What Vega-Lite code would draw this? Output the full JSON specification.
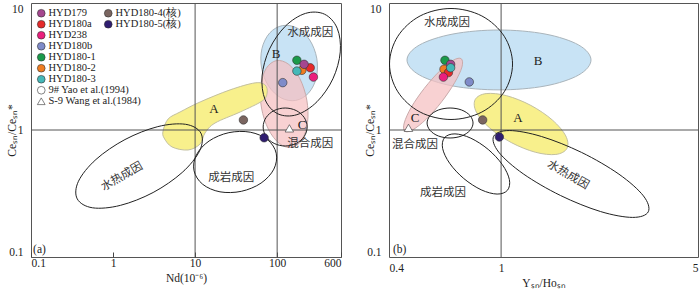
{
  "$schema": "https://vega.github.io/schema/vega-lite/v6.json",
  "padding": {"left": 5, "top": 2, "right": 0, "bottom": 0},
  "background": "white",
  "config": {
    "view": {"stroke": "#555", "strokeWidth": 1},
    "font": "Liberation Serif",
    "legend": {"labelFont": "Liberation Serif", "labelFontSize": 10.5, "labelColor": "#222"},
    "axis": {"grid": false, "domain": false, "ticks": false, "labelFont": "Liberation Serif", "labelFontSize": 11.5, "labelColor": "#222", "titleFont": "Liberation Serif", "titleFontSize": 11.5, "titleFontWeight": "normal", "titleColor": "#222", "labelFlush": true, "format": "~g"}
  },
  "datasets": {
    "lfill": [
      {"id":"B","i":0,"x":116.4,"y":6.64},{"id":"B","i":1,"x":81.0,"y":5.80},{"id":"B","i":2,"x":65.3,"y":4.38},{"id":"B","i":3,"x":64.6,"y":3.08},{"id":"B","i":4,"x":78.6,"y":2.22},{"id":"B","i":5,"x":111.7,"y":1.79},{"id":"B","i":6,"x":168.6,"y":1.71},{"id":"B","i":7,"x":242.2,"y":1.96},{"id":"B","i":8,"x":300.4,"y":2.59},{"id":"B","i":9,"x":303.7,"y":3.68},{"id":"B","i":10,"x":249.6,"y":5.11},{"id":"B","i":11,"x":175.7,"y":6.34},
      {"id":"C","i":0,"x":98.2,"y":3.52},{"id":"C","i":1,"x":73.5,"y":3.05},{"id":"C","i":2,"x":63.0,"y":2.23},{"id":"C","i":3,"x":64.5,"y":1.49},{"id":"C","i":4,"x":78.1,"y":1.016},{"id":"C","i":5,"x":106.6,"y":0.782},{"id":"C","i":6,"x":150.8,"y":0.730},{"id":"C","i":7,"x":201.5,"y":0.841},{"id":"C","i":8,"x":235.0,"y":1.152},{"id":"C","i":9,"x":229.9,"y":1.72},{"id":"C","i":10,"x":189.6,"y":2.53},{"id":"C","i":11,"x":138.9,"y":3.28},
      {"id":"A","i":0,"x":4.07,"y":0.982},{"id":"A","i":1,"x":4.69,"y":1.221},{"id":"A","i":2,"x":6.56,"y":1.386},{"id":"A","i":3,"x":11.51,"y":1.662},{"id":"A","i":4,"x":26.7,"y":2.07},{"id":"A","i":5,"x":53.9,"y":2.35},{"id":"A","i":6,"x":71.4,"y":2.26},{"id":"A","i":7,"x":75.5,"y":1.956},{"id":"A","i":8,"x":65.6,"y":1.692},{"id":"A","i":9,"x":35.4,"y":1.386},{"id":"A","i":10,"x":17.5,"y":1.135},{"id":"A","i":11,"x":13.2,"y":0.947},{"id":"A","i":12,"x":11.51,"y":0.776},{"id":"A","i":13,"x":8.21,"y":0.696},{"id":"A","i":14,"x":5.24,"y":0.735},{"id":"A","i":15,"x":4.19,"y":0.865}
    ],
    "lring": [
      {"id":"e1","i":0,"x":376.9,"y":8.17},{"id":"e1","i":1,"x":221.2,"y":8.28},{"id":"e1","i":2,"x":125.7,"y":6.56},{"id":"e1","i":3,"x":80.5,"y":4.33},{"id":"e1","i":4,"x":65.5,"y":2.66},{"id":"e1","i":5,"x":71.4,"y":1.73},{"id":"e1","i":6,"x":102.2,"y":1.34},{"id":"e1","i":7,"x":174.0,"y":1.32},{"id":"e1","i":8,"x":306.2,"y":1.67},{"id":"e1","i":9,"x":478,"y":2.53},{"id":"e1","i":10,"x":588,"y":4.12},{"id":"e1","i":11,"x":539,"y":6.33},
      {"id":"e2","i":0,"x":232.2,"y":1.056},{"id":"e2","i":1,"x":213.7,"y":1.254},{"id":"e2","i":2,"x":170.5,"y":1.423},{"id":"e2","i":3,"x":125.2,"y":1.490},{"id":"e2","i":4,"x":91.9,"y":1.423},{"id":"e2","i":5,"x":73.3,"y":1.254},{"id":"e2","i":6,"x":67.5,"y":1.056},{"id":"e2","i":7,"x":73.3,"y":0.889},{"id":"e2","i":8,"x":91.9,"y":0.784},{"id":"e2","i":9,"x":125.2,"y":0.748},{"id":"e2","i":10,"x":170.5,"y":0.784},{"id":"e2","i":11,"x":213.7,"y":0.889},
      {"id":"e3","i":0,"x":11.77,"y":0.945},{"id":"e3","i":1,"x":7.65,"y":1.109},{"id":"e3","i":2,"x":3.51,"y":1.063},{"id":"e3","i":3,"x":1.397,"y":0.841},{"id":"e3","i":4,"x":0.619,"y":0.586},{"id":"e3","i":5,"x":0.379,"y":0.395},{"id":"e3","i":6,"x":0.366,"y":0.287},{"id":"e3","i":7,"x":0.563,"y":0.244},{"id":"e3","i":8,"x":1.228,"y":0.255},{"id":"e3","i":9,"x":3.08,"y":0.322},{"id":"e3","i":10,"x":6.96,"y":0.463},{"id":"e3","i":11,"x":11.36,"y":0.686},
      {"id":"e4","i":0,"x":97.4,"y":0.656},{"id":"e4","i":1,"x":76.5,"y":0.838},{"id":"e4","i":2,"x":47.0,"y":0.961},{"id":"e4","i":3,"x":25.8,"y":0.953},{"id":"e4","i":4,"x":14.84,"y":0.820},{"id":"e4","i":5,"x":10.37,"y":0.637},{"id":"e4","i":6,"x":9.70,"y":0.478},{"id":"e4","i":7,"x":12.36,"y":0.374},{"id":"e4","i":8,"x":20.1,"y":0.326},{"id":"e4","i":9,"x":36.6,"y":0.329},{"id":"e4","i":10,"x":63.7,"y":0.382},{"id":"e4","i":11,"x":91.2,"y":0.492}
    ],
    "rfill": [
      {"id":"B","i":0,"x":2.085,"y":3.56},{"id":"B","i":1,"x":1.885,"y":4.67},{"id":"B","i":2,"x":1.432,"y":5.70},{"id":"B","i":3,"x":0.983,"y":6.13},{"id":"B","i":4,"x":0.675,"y":5.70},{"id":"B","i":5,"x":0.513,"y":4.67},{"id":"B","i":6,"x":0.4634,"y":3.56},{"id":"B","i":7,"x":0.513,"y":2.71},{"id":"B","i":8,"x":0.675,"y":2.22},{"id":"B","i":9,"x":0.983,"y":2.07},{"id":"B","i":10,"x":1.432,"y":2.22},{"id":"B","i":11,"x":1.885,"y":2.71},
      {"id":"C","i":0,"x":0.722,"y":3.64},{"id":"C","i":1,"x":0.676,"y":3.54},{"id":"C","i":2,"x":0.605,"y":2.91},{"id":"C","i":3,"x":0.534,"y":2.13},{"id":"C","i":4,"x":0.480,"y":1.510},{"id":"C","i":5,"x":0.453,"y":1.135},{"id":"C","i":6,"x":0.455,"y":0.978},{"id":"C","i":7,"x":0.486,"y":1.004},{"id":"C","i":8,"x":0.543,"y":1.221},{"id":"C","i":9,"x":0.615,"y":1.668},{"id":"C","i":10,"x":0.684,"y":2.36},{"id":"C","i":11,"x":0.726,"y":3.13},
      {"id":"A","i":0,"x":1.713,"y":0.716},{"id":"A","i":1,"x":1.696,"y":0.899},{"id":"A","i":2,"x":1.522,"y":1.196},{"id":"A","i":3,"x":1.276,"y":1.561},{"id":"A","i":4,"x":1.046,"y":1.862},{"id":"A","i":5,"x":0.885,"y":1.935},{"id":"A","i":6,"x":0.809,"y":1.735},{"id":"A","i":7,"x":0.817,"y":1.382},{"id":"A","i":8,"x":0.910,"y":1.040},{"id":"A","i":9,"x":1.086,"y":0.797},{"id":"A","i":10,"x":1.324,"y":0.668},{"id":"A","i":11,"x":1.564,"y":0.642}
    ],
    "rring": [
      {"id":"e1","i":0,"x":1.098,"y":3.31},{"id":"e1","i":1,"x":1.026,"y":5.47},{"id":"e1","i":2,"x":0.854,"y":7.91},{"id":"e1","i":3,"x":0.664,"y":9.05},{"id":"e1","i":4,"x":0.516,"y":7.91},{"id":"e1","i":5,"x":0.430,"y":5.47},{"id":"e1","i":6,"x":0.4017,"y":3.31},{"id":"e1","i":7,"x":0.430,"y":2.00},{"id":"e1","i":8,"x":0.516,"y":1.384},{"id":"e1","i":9,"x":0.664,"y":1.210},{"id":"e1","i":10,"x":0.854,"y":1.384},{"id":"e1","i":11,"x":1.026,"y":2.00},
      {"id":"e2","i":0,"x":0.795,"y":1.135},{"id":"e2","i":1,"x":0.775,"y":1.301},{"id":"e2","i":2,"x":0.724,"y":1.437},{"id":"e2","i":3,"x":0.659,"y":1.490},{"id":"e2","i":4,"x":0.599,"y":1.437},{"id":"e2","i":5,"x":0.560,"y":1.301},{"id":"e2","i":6,"x":0.546,"y":1.135},{"id":"e2","i":7,"x":0.560,"y":0.991},{"id":"e2","i":8,"x":0.599,"y":0.897},{"id":"e2","i":9,"x":0.659,"y":0.865},{"id":"e2","i":10,"x":0.724,"y":0.897},{"id":"e2","i":11,"x":0.775,"y":0.991},
      {"id":"e3","i":0,"x":3.33,"y":0.227},{"id":"e3","i":1,"x":3.20,"y":0.303},{"id":"e3","i":2,"x":2.62,"y":0.449},{"id":"e3","i":3,"x":1.930,"y":0.666},{"id":"e3","i":4,"x":1.391,"y":0.889},{"id":"e3","i":5,"x":1.070,"y":0.990},{"id":"e3","i":6,"x":0.941,"y":0.892},{"id":"e3","i":7,"x":0.981,"y":0.669},{"id":"e3","i":8,"x":1.198,"y":0.452},{"id":"e3","i":9,"x":1.625,"y":0.305},{"id":"e3","i":10,"x":2.254,"y":0.228},{"id":"e3","i":11,"x":2.93,"y":0.205},
      {"id":"e4","i":0,"x":1.053,"y":0.335},{"id":"e4","i":1,"x":1.070,"y":0.407},{"id":"e4","i":2,"x":1.010,"y":0.534},{"id":"e4","i":3,"x":0.900,"y":0.703},{"id":"e4","i":4,"x":0.781,"y":0.862},{"id":"e4","i":5,"x":0.686,"y":0.932},{"id":"e4","i":6,"x":0.630,"y":0.871},{"id":"e4","i":7,"x":0.620,"y":0.716},{"id":"e4","i":8,"x":0.657,"y":0.546},{"id":"e4","i":9,"x":0.737,"y":0.415},{"id":"e4","i":10,"x":0.850,"y":0.338},{"id":"e4","i":11,"x":0.968,"y":0.313}
    ],
    "lpts": [
      {"sample":"HYD180-2","x":200,"y":2.95},
      {"sample":"HYD180-3","x":174,"y":2.91},
      {"sample":"HYD180-1","x":174,"y":3.54},
      {"sample":"HYD180a","x":253,"y":3.09},
      {"sample":"HYD179","x":213,"y":3.29},
      {"sample":"HYD238","x":277,"y":2.61},
      {"sample":"HYD180b","x":117,"y":2.36},
      {"sample":"S-9 Wang et al.(1984)","x":141,"y":1.03}
    ],
    "lcore": [
      {"core":"HYD180-4(核)","x":38.8,"y":1.20},
      {"core":"HYD180-5(核)","x":69.4,"y":0.869}
    ],
    "rpts": [
      {"sample":"HYD180-2","x":0.627,"y":3.01},
      {"sample":"HYD180a","x":0.650,"y":2.83},
      {"sample":"HYD180-1","x":0.632,"y":3.54},
      {"sample":"HYD179","x":0.662,"y":3.29},
      {"sample":"HYD180-3","x":0.662,"y":3.09},
      {"sample":"HYD238","x":0.624,"y":2.61},
      {"sample":"HYD180b","x":0.771,"y":2.39},
      {"sample":"S-9 Wang et al.(1984)","x":0.469,"y":1.04}
    ],
    "rcore": [
      {"core":"HYD180-4(核)","x":0.860,"y":1.20},
      {"core":"HYD180-5(核)","x":0.986,"y":0.881}
    ],
    "lcn": [
      {"t":"水成成因","x":252.6,"y":5.80},
      {"t":"混合成因","x":252.6,"y":0.776},
      {"t":"成岩成因","x":27.5,"y":0.419}
    ],
    "lrot": [{"t":"水热成因","x":1.288,"y":0.427}],
    "llet": [
      {"t":"B","x":97.2,"y":3.97},
      {"t":"A","x":17.0,"y":1.464},
      {"t":"C","x":201.8,"y":1.095}
    ],
    "ltag": [{"t":"(a)","x":0.106,"y":0.1135}],
    "rcn": [
      {"t":"水成成因","x":0.643,"y":6.96},
      {"t":"混合成因","x":0.495,"y":0.762},
      {"t":"成岩成因","x":0.622,"y":0.319}
    ],
    "rrot": [{"t":"水热成因","x":1.728,"y":0.442}],
    "rlet": [
      {"t":"B","x":1.352,"y":3.49},
      {"t":"C","x":0.495,"y":1.243},
      {"t":"A","x":1.148,"y":1.243}
    ],
    "rtag": [{"t":"(b)","x":0.4133,"y":0.1135}],
    "lvx": [{"v":10},{"v":100}],
    "rvx": [{"v":1}],
    "hy": [{"v":1}]
  },
  "hconcat": [
    {
      "width": 310,
      "height": 254,
      "layer": [
        {
          "data": {"name": "lfill"},
          "transform": [{"filter": "datum.id === 'B'"}],
          "mark": {"type": "line", "interpolate": "cardinal-closed", "fill": "#c8e3f5", "stroke": "#a9b4bb", "strokeWidth": 1},
          "encoding": {
            "x": {"field": "x", "type": "quantitative", "scale": {"type": "log", "domain": [0.1, 600], "nice": false}, "axis": {"title": "Nd(10⁻⁶)", "values": [0.1, 1, 10, 100, 600], "ticks": true, "tickSize": -5, "tickColor": "#444", "labelPadding": 5, "titlePadding": 4}},
            "y": {"field": "y", "type": "quantitative", "scale": {"type": "log", "domain": [0.1, 10], "nice": false}, "axis": {"title": "Ceₛₙ/Ceₛₙ*", "values": [0.1, 1, 10], "labelPadding": 8, "titleX": -14, "titleY": 127}},
            "order": {"field": "i", "type": "quantitative"}
          }
        },
        {
          "data": {"name": "lfill"},
          "transform": [{"filter": "datum.id === 'C'"}],
          "mark": {"type": "line", "interpolate": "cardinal-closed", "fill": "#f5bfc0", "fillOpacity": 0.72, "stroke": "#c9aaaa", "strokeWidth": 1},
          "encoding": {
            "x": {"field": "x", "type": "quantitative"},
            "y": {"field": "y", "type": "quantitative"},
            "order": {"field": "i", "type": "quantitative"}
          }
        },
        {
          "data": {"name": "lfill"},
          "transform": [{"filter": "datum.id === 'A'"}],
          "mark": {"type": "line", "interpolate": "cardinal-closed", "fill": "#f8f08c", "stroke": "#c3c0a0", "strokeWidth": 1},
          "encoding": {
            "x": {"field": "x", "type": "quantitative"},
            "y": {"field": "y", "type": "quantitative"},
            "order": {"field": "i", "type": "quantitative"}
          }
        },
        {
          "data": {"name": "lvx"},
          "mark": {"type": "rule", "color": "#555", "strokeWidth": 1},
          "encoding": {"x": {"field": "v", "type": "quantitative"}}
        },
        {
          "data": {"name": "hy"},
          "mark": {"type": "rule", "color": "#555", "strokeWidth": 1},
          "encoding": {"y": {"field": "v", "type": "quantitative"}}
        },
        {
          "data": {"name": "lring"},
          "mark": {"type": "line", "interpolate": "cardinal-closed", "color": "#222", "strokeWidth": 1},
          "encoding": {
            "x": {"field": "x", "type": "quantitative"},
            "y": {"field": "y", "type": "quantitative"},
            "detail": {"field": "id"},
            "order": {"field": "i", "type": "quantitative"}
          }
        },
        {
          "data": {"name": "lcn"},
          "mark": {"type": "text", "font": "Noto Sans CJK SC", "fontSize": 11.5, "color": "#333"},
          "encoding": {"x": {"field": "x", "type": "quantitative"}, "y": {"field": "y", "type": "quantitative"}, "text": {"field": "t"}}
        },
        {
          "data": {"name": "lrot"},
          "mark": {"type": "text", "font": "Noto Sans CJK SC", "fontSize": 11.5, "color": "#333", "angle": 330},
          "encoding": {"x": {"field": "x", "type": "quantitative"}, "y": {"field": "y", "type": "quantitative"}, "text": {"field": "t"}}
        },
        {
          "data": {"name": "llet"},
          "mark": {"type": "text", "font": "Liberation Serif", "fontSize": 13, "color": "#222"},
          "encoding": {"x": {"field": "x", "type": "quantitative"}, "y": {"field": "y", "type": "quantitative"}, "text": {"field": "t"}}
        },
        {
          "data": {"name": "ltag"},
          "mark": {"type": "text", "font": "Liberation Serif", "fontSize": 11.5, "color": "#222", "align": "left"},
          "encoding": {"x": {"field": "x", "type": "quantitative"}, "y": {"field": "y", "type": "quantitative"}, "text": {"field": "t"}}
        },
        {
          "data": {"name": "lpts"},
          "mark": {"type": "point", "filled": true, "size": 72, "stroke": "#333", "strokeWidth": 0.6, "opacity": 1},
          "encoding": {
            "x": {"field": "x", "type": "quantitative"},
            "y": {"field": "y", "type": "quantitative"},
            "color": {"field": "sample", "type": "nominal", "sort": null,
              "scale": {"domain": ["HYD179","HYD180a","HYD238","HYD180b","HYD180-1","HYD180-2","HYD180-3","9# Yao et al.(1994)","S-9 Wang et al.(1984)"], "range": ["#a5478f","#e62a2a","#ea1f7d","#7f8bc9","#1a9a4b","#f07d20","#45b8b8","#ffffff","#ffffff"]},
              "legend": {"orient": "none", "legendX": 5, "legendY": 5, "title": null, "labelFont": "Liberation Serif", "labelFontSize": 10.5, "labelColor": "#222", "symbolSize": 60, "rowPadding": 0, "symbolStrokeColor": "#333", "symbolStrokeWidth": 0.6, "labelOffset": 2}},
            "shape": {"field": "sample", "type": "nominal", "sort": null,
              "scale": {"domain": ["HYD179","HYD180a","HYD238","HYD180b","HYD180-1","HYD180-2","HYD180-3","9# Yao et al.(1994)","S-9 Wang et al.(1984)"], "range": ["circle","circle","circle","circle","circle","circle","circle","circle","triangle-up"]},
              "legend": {"orient": "none", "legendX": 5, "legendY": 5, "title": null, "labelFont": "Liberation Serif", "labelFontSize": 10.5, "labelColor": "#222", "symbolSize": 60, "rowPadding": 0, "symbolStrokeColor": "#333", "symbolStrokeWidth": 0.6, "labelOffset": 2}}
          }
        },
        {
          "data": {"name": "lcore"},
          "mark": {"type": "point", "filled": true, "size": 72, "stroke": "#333", "strokeWidth": 0.6, "opacity": 1, "shape": "circle"},
          "encoding": {
            "x": {"field": "x", "type": "quantitative"},
            "y": {"field": "y", "type": "quantitative"},
            "fill": {"field": "core", "type": "nominal",
              "scale": {"domain": ["HYD180-4(核)","HYD180-5(核)"], "range": ["#7a6560","#2f1d70"]},
              "legend": {"orient": "none", "legendX": 72, "legendY": 5, "title": null, "labelFont": "Liberation Serif", "labelFontSize": 10.5, "labelColor": "#222", "symbolSize": 60, "rowPadding": 0, "symbolType": "circle", "symbolStrokeColor": "#333", "symbolStrokeWidth": 0.6, "labelOffset": 2}}
          }
        }
      ]
    },
    {
      "width": 309,
      "height": 254,
      "layer": [
        {
          "data": {"name": "rfill"},
          "transform": [{"filter": "datum.id === 'B'"}],
          "mark": {"type": "line", "interpolate": "cardinal-closed", "fill": "#c8e3f5", "stroke": "#a9b4bb", "strokeWidth": 1},
          "encoding": {
            "x": {"field": "x", "type": "quantitative", "scale": {"type": "log", "domain": [0.4, 5], "nice": false}, "axis": {"title": "Yₛₙ/Hoₛₙ", "values": [0.4, 1, 5], "labelPadding": 5, "titlePadding": 4}},
            "y": {"field": "y", "type": "quantitative", "scale": {"type": "log", "domain": [0.1, 10], "nice": false}, "axis": {"title": "Ceₛₙ/Ceₛₙ*", "values": [0.1, 1, 10], "labelPadding": 8, "titleX": -14, "titleY": 127}},
            "order": {"field": "i", "type": "quantitative"}
          }
        },
        {
          "data": {"name": "rfill"},
          "transform": [{"filter": "datum.id === 'C'"}],
          "mark": {"type": "line", "interpolate": "cardinal-closed", "fill": "#f5bfc0", "fillOpacity": 0.72, "stroke": "#c9aaaa", "strokeWidth": 1},
          "encoding": {
            "x": {"field": "x", "type": "quantitative"},
            "y": {"field": "y", "type": "quantitative"},
            "order": {"field": "i", "type": "quantitative"}
          }
        },
        {
          "data": {"name": "rfill"},
          "transform": [{"filter": "datum.id === 'A'"}],
          "mark": {"type": "line", "interpolate": "cardinal-closed", "fill": "#f8f08c", "stroke": "#c3c0a0", "strokeWidth": 1},
          "encoding": {
            "x": {"field": "x", "type": "quantitative"},
            "y": {"field": "y", "type": "quantitative"},
            "order": {"field": "i", "type": "quantitative"}
          }
        },
        {
          "data": {"name": "rvx"},
          "mark": {"type": "rule", "color": "#555", "strokeWidth": 1},
          "encoding": {"x": {"field": "v", "type": "quantitative"}}
        },
        {
          "data": {"name": "hy"},
          "mark": {"type": "rule", "color": "#555", "strokeWidth": 1},
          "encoding": {"y": {"field": "v", "type": "quantitative"}}
        },
        {
          "data": {"name": "rring"},
          "mark": {"type": "line", "interpolate": "cardinal-closed", "color": "#222", "strokeWidth": 1},
          "encoding": {
            "x": {"field": "x", "type": "quantitative"},
            "y": {"field": "y", "type": "quantitative"},
            "detail": {"field": "id"},
            "order": {"field": "i", "type": "quantitative"}
          }
        },
        {
          "data": {"name": "rcn"},
          "mark": {"type": "text", "font": "Noto Sans CJK SC", "fontSize": 11.5, "color": "#333"},
          "encoding": {"x": {"field": "x", "type": "quantitative"}, "y": {"field": "y", "type": "quantitative"}, "text": {"field": "t"}}
        },
        {
          "data": {"name": "rrot"},
          "mark": {"type": "text", "font": "Noto Sans CJK SC", "fontSize": 11.5, "color": "#333", "angle": 30},
          "encoding": {"x": {"field": "x", "type": "quantitative"}, "y": {"field": "y", "type": "quantitative"}, "text": {"field": "t"}}
        },
        {
          "data": {"name": "rlet"},
          "mark": {"type": "text", "font": "Liberation Serif", "fontSize": 13, "color": "#222"},
          "encoding": {"x": {"field": "x", "type": "quantitative"}, "y": {"field": "y", "type": "quantitative"}, "text": {"field": "t"}}
        },
        {
          "data": {"name": "rtag"},
          "mark": {"type": "text", "font": "Liberation Serif", "fontSize": 11.5, "color": "#222", "align": "left"},
          "encoding": {"x": {"field": "x", "type": "quantitative"}, "y": {"field": "y", "type": "quantitative"}, "text": {"field": "t"}}
        },
        {
          "data": {"name": "rpts"},
          "mark": {"type": "point", "filled": true, "size": 72, "stroke": "#333", "strokeWidth": 0.6, "opacity": 1},
          "encoding": {
            "x": {"field": "x", "type": "quantitative"},
            "y": {"field": "y", "type": "quantitative"},
            "color": {"field": "sample", "type": "nominal",
              "scale": {"domain": ["HYD179","HYD180a","HYD238","HYD180b","HYD180-1","HYD180-2","HYD180-3","9# Yao et al.(1994)","S-9 Wang et al.(1984)"], "range": ["#a5478f","#e62a2a","#ea1f7d","#7f8bc9","#1a9a4b","#f07d20","#45b8b8","#ffffff","#ffffff"]},
              "legend": null},
            "shape": {"field": "sample", "type": "nominal",
              "scale": {"domain": ["HYD179","HYD180a","HYD238","HYD180b","HYD180-1","HYD180-2","HYD180-3","9# Yao et al.(1994)","S-9 Wang et al.(1984)"], "range": ["circle","circle","circle","circle","circle","circle","circle","circle","triangle-up"]},
              "legend": null}
          }
        },
        {
          "data": {"name": "rcore"},
          "mark": {"type": "point", "filled": true, "size": 72, "stroke": "#333", "strokeWidth": 0.6, "opacity": 1, "shape": "circle"},
          "encoding": {
            "x": {"field": "x", "type": "quantitative"},
            "y": {"field": "y", "type": "quantitative"},
            "fill": {"field": "core", "type": "nominal",
              "scale": {"domain": ["HYD180-4(核)","HYD180-5(核)"], "range": ["#7a6560","#2f1d70"]},
              "legend": null}
          }
        }
      ]
    }
  ],
  "spacing": 48,
  "bounds": "flush",
  "resolve": {"scale": {"color": "independent", "shape": "independent", "fill": "independent"}}
}
